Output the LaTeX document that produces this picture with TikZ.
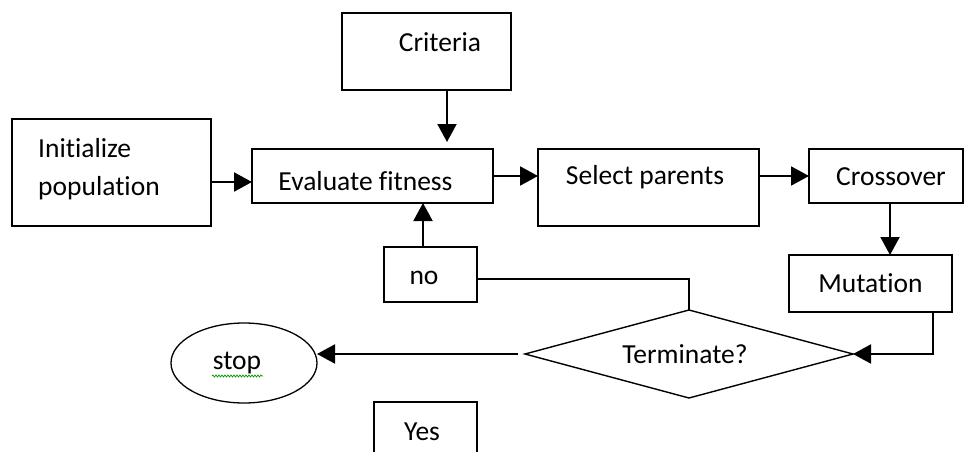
\documentclass[tikz,border=0pt]{standalone}
\usepackage{fontspec}
\setmainfont{Carlito}[Ligatures=NoCommon]
\usetikzlibrary{arrows.meta,shapes.geometric,decorations.pathmorphing}
\begin{document}
\begin{tikzpicture}[x=1pt,y=-1pt,
  box/.style={draw,line width=1.6pt,inner sep=0pt,outer sep=0pt},
  arr/.style={line width=2pt,-{Triangle[length=18pt,width=19pt]}},
  conn/.style={line width=1.6pt},
  txt/.style={font=\fontsize{27.5}{38}\selectfont,inner sep=0pt}
]
\useasboundingbox (0,0) rectangle (964,452);
\node[box,minimum width=169pt,minimum height=77pt,label={[txt,xshift=13.5pt,yshift=9.5pt]center:Criteria}] (crit) at (426.5,51.5) {};
\node[box,minimum width=199pt,minimum height=107pt,label={[txt,align=left,xshift=-12.5pt,yshift=3.5pt]center:Initialize\\population}] (init) at (111.5,172.5) {};
\node[box,minimum width=241pt,minimum height=54pt,label={[txt,xshift=-7pt,yshift=-5pt]center:Evaluate fitness}] (eval) at (372.5,176) {};
\node[box,minimum width=221pt,minimum height=77pt,label={[txt,xshift=-3.5pt,yshift=10.5pt]center:Select parents}] (sel) at (648.5,187.5) {};
\node[box,minimum width=154pt,minimum height=54pt,label={[txt,xshift=5pt,yshift=-1pt]center:Crossover}] (cross) at (886,176) {};
\node[box,minimum width=163pt,minimum height=57pt,label={[txt]center:Mutation}] (mut) at (870.5,283.5) {};
\node[box,minimum width=93pt,minimum height=55pt,label={[txt,xshift=-6.5pt,yshift=-3.5pt]center:no}] (no) at (430.5,274.5) {};
\node[box,diamond,line width=1.4pt,minimum width=328pt,minimum height=88pt,label={[txt,xshift=-4pt]center:Terminate?}] (term) at (689,354) {};
\node[box,ellipse,line width=1.3pt,minimum width=146pt,minimum height=80pt,label={[txt,xshift=-7pt]center:stop}] (stop) at (244,363) {};
\node[box,minimum width=103pt,minimum height=68pt,label={[txt,xshift=-3.5pt,yshift=4pt]center:Yes}] (yes) at (425.5,436) {};
\draw[green!60!black,line width=0.7pt,decorate,decoration={snake,amplitude=1pt,segment length=3pt}] (212,376) -- (263,376);
\coordinate (cA) at (447,0);
\coordinate (cB) at (0,182);
\coordinate (cC) at (890,0);
\coordinate (cD) at (933,0);
\coordinate (cE) at (423,0);
\coordinate (cF) at (0,279);
\draw[arr,shorten >=7pt] (crit.south -| cA) -- (eval.north -| cA);
\draw[arr] (init.east |- cB) -- (eval.west |- cB);
\draw[arr] (eval.east) -- (eval.east -| sel.west);
\draw[arr] (cross.west -| sel.east) -- (cross.west);
\draw[arr] (cross.south -| cC) -- (mut.north -| cC);
\draw[arr] (mut.south -| cD) |- (term.east);
\draw[arr] (no.north -| cE) -- (eval.south -| cE);
\draw[conn] (no.east |- cF) -| (term.north);
\draw[arr] ([xshift=-7pt]term.west) -- (term.west -| stop.east);
\end{tikzpicture}
\end{document}
